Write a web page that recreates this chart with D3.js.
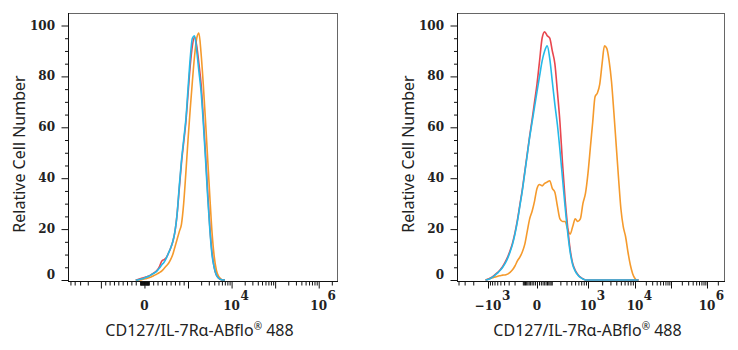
<!DOCTYPE html>
<html><head><meta charset="utf-8">
<script src="https://cdn.jsdelivr.net/npm/d3@7"></script>
<style>body{margin:0;background:#fff} svg{display:block}</style>
</head><body><svg id="c" width="738" height="350"></svg>
<script>
// ---- data (x in logicle display units: 1 unit per decade above 10^3) ----
const leftBins = [-0.20,-0.15,-0.10,-0.05,0.00,0.05,0.10,0.15,0.20,0.25,0.30,0.35,0.40,0.45,0.50,0.55,0.60,0.65,0.70,0.75,0.80,0.85,0.90,0.95,1.00,1.05,1.10,1.15,1.20,1.25,1.30,1.35,1.40,1.45,1.50,1.55,1.60,1.65,1.70,1.75,1.80,1.85];
const leftOrange = [0,0,0,0.2,0.4,0.6,0.9,1.2,1.6,2,2.5,3,3.6,4.5,5.5,6.5,8,10,13,16,19,22,30,42,55,67,78,88,95,97,89,77,63,48,33,19,9.5,4,1.5,0.5,0,0];
const leftRed    = [0,0.2,0.5,0.8,1,1.3,1.6,2,2.6,3.2,4,5.5,7.5,8,8.8,10.5,12.5,15,19,26,36,46,54,62,73,84,92,95.5,92,85,77,64,50,35,21,11,5,2,0.8,0.2,0,0];
const leftBlue   = [0,0,0.3,0.5,0.8,1.2,1.5,2,2.5,3,3.8,4.8,6,7,8.5,10.5,12.5,15,19,26,37,47,55,63,75,87,95,96,90,82,74,62,48,33,20,10,5,2,0.8,0.2,0,0];

const rightBins = [-1.05,-1.00,-0.95,-0.90,-0.85,-0.80,-0.75,-0.70,-0.65,-0.60,-0.55,-0.50,-0.45,-0.40,-0.35,-0.30,-0.25,-0.20,-0.15,-0.10,-0.05,0.00,0.05,0.10,0.15,0.20,0.25,0.30,0.35,0.40,0.45,0.50,0.55,0.60,0.65,0.70,0.75,0.80,0.85,0.90,0.95,1.00,1.05,1.10,1.15,1.20,1.25,1.30,1.35,1.40,1.45,1.50,1.55,1.60,1.65,1.70,1.75,1.80,1.85,1.90,1.95,2.00,2.05,2.10];
const rightOrange = [0,0.3,0.6,0.9,1.2,1.5,1.7,1.9,2,2.3,3,4,5.5,7.5,9,11,14,19,24,27,31,36,37.5,37,38,38.5,39,36,34.5,29,24,23,23,20,18,21,24,23,24,30,34,42,52,62,72,73.5,77,85,92,91,86,78,66,53,40,28,21,17,11,6,2.5,0.6,0,0];
const rightRed    = [0,0.3,0.8,1.4,2.2,3,4,5.3,7,9,11.5,14.5,18.5,23.5,29.5,35.5,42.5,49.5,56.5,63,70,77,86,95,97.5,96,95,90,85,74,62,46,32,21,12,6.5,3.8,2.2,1.1,0.5,0,0,0,0,0,0,0,0,0,0,0,0,0,0,0,0,0,0,0,0,0,0,0,0];
const rightBlue   = [0,0.2,0.6,1.2,2,2.8,3.8,5,6.5,8.5,11,14,18,23,29,35,42,49,56,62,68,74,80,86,90,92,87,78,69,61,51,40,29,19,11,6,3.5,2,1,0.4,0,0,0,0,0,0,0,0,0,0,0,0,0,0,0,0,0,0,0,0,0,0,0,0];

const yTickValues = [0,20,40,60,80,100];
const leftTickLabels = [0, 1e4, 1e6];
const rightTickLabels = [-1e3, 0, 1e3, 1e4, 1e6];
const xTitle = "CD127/IL-7R\u03b1-ABflo";
const xTitleSup = "\u00ae";
const xTitleTail = " 488";
const yTitle = "Relative Cell Number";
const seriesColors = ["#f59a2c", "#e8464e", "#25b9e8"]; // orange, red, blue

// logicle-like display transform (1 unit per decade above 10^3)
function makeT(c) {
  return v => {
    const a = Math.abs(v), s = Math.sign(v);
    if (a <= 1000) return c ? s * Math.log1p(a / c) / Math.log1p(1000 / c) : v / 1000;
    return s * (1 + Math.log10(a / 1000));
  };
}

const svg = d3.select("#c");
const plotTop = 13, plotBottom = 281;

const panels = [
  { x0: 68, x1: 337, xDom: [-1.755, 4.42], xRng: [68, 337], T: makeT(0),
    bins: leftBins, series: [leftOrange, leftRed, leftBlue], labels: leftTickLabels },
  { x0: 457, x1: 724, xDom: [-1.633, -1, 0, 1, 2, 4, 4.472], xRng: [457, 488, 537, 588, 635, 707, 724], T: makeT(100),
    bins: rightBins, series: [rightOrange, rightRed, rightBlue], labels: rightTickLabels }
];

const serif = "'DejaVu Serif', serif";
const sans = "'Noto Sans', 'Open Sans', sans-serif";

panels.forEach(p => {
  const g = svg.append("g");
  const x = d3.scaleLinear().domain(p.xDom).range(p.xRng);
  const y = d3.scaleLinear().domain([0, 100]).range([plotBottom - 1, 25.5]);
  const uMin = p.xDom[0], uMax = p.xDom[p.xDom.length - 1];

  // frame
  g.append("rect").attr("x", p.x0 + 0.5).attr("y", plotTop + 0.5)
    .attr("width", p.x1 - p.x0).attr("height", plotBottom - plotTop)
    .attr("fill", "none").attr("stroke", "#666").attr("stroke-width", 1);

  // curves
  const line = d3.line().x((d, i) => x(p.bins[i])).y(d => y(d)).curve(d3.curveMonotoneX);
  p.series.forEach((s, k) => {
    g.append("path").datum(s).attr("d", line)
      .attr("fill", "none").attr("stroke", seriesColors[k]).attr("stroke-width", 1.6)
      .attr("stroke-linejoin", "round");
  });

  // y axis
  const yMinor = d3.range(5, 100, 5).filter(v => v % 20 !== 0);
  const yAx = g.append("g").attr("transform", `translate(${p.x0 + 0.5},0)`);
  yAx.call(d3.axisLeft(y).tickValues(yTickValues).tickSize(7).tickFormat(""));
  const yAx2 = g.append("g").attr("transform", `translate(${p.x0 + 0.5},0)`);
  yAx2.call(d3.axisLeft(y).tickValues(yMinor).tickSize(3.5).tickFormat(""));
  [yAx, yAx2].forEach(a => { a.select(".domain").remove(); a.selectAll("line").attr("stroke", "#111"); });
  g.append("line").attr("x1", p.x0 + 0.5).attr("x2", p.x0 + 0.5).attr("y1", plotTop).attr("y2", plotBottom + 1)
    .attr("stroke", "#111");
  yTickValues.forEach(v => {
    g.append("text").attr("x", p.x0 - 13).attr("y", y(v) + (v === 0 ? -1 : 4))
      .attr("text-anchor", "end").attr("font-family", serif).attr("font-weight", "bold")
      .attr("font-size", 12).attr("fill", "#222").text(v);
  });

  // x axis ticks
  const major = [], minor = [];
  [-1, 1].forEach(sg => {
    for (let n = 1; n <= 6; n++) {
      for (let k = 1; k <= 9; k++) {
        const v = sg * k * Math.pow(10, n);
        const u = p.T(v);
        if (u < uMin || u > uMax) continue;
        if (k === 1 && n >= 3) major.push(u); else minor.push(u);
      }
    }
  });
  major.push(0);
  const xa1 = g.append("g").attr("transform", `translate(0,${plotBottom + 0.5})`)
    .call(d3.axisBottom(x).tickValues(major).tickSize(7).tickFormat(""));
  const xa2 = g.append("g").attr("transform", `translate(0,${plotBottom + 0.5})`)
    .call(d3.axisBottom(x).tickValues(minor).tickSize(4).tickFormat(""));
  [xa1, xa2].forEach(a => { a.select(".domain").remove(); a.selectAll("line").attr("stroke", "#111"); });
  g.append("line").attr("x1", p.x0).attr("x2", p.x1 + 1).attr("y1", plotBottom + 0.5).attr("y2", plotBottom + 0.5)
    .attr("stroke", "#111");

  // x tick labels
  p.labels.forEach(v => {
    const cx = x(p.T(v));
    if (v === 0) {
      g.append("text").attr("x", cx).attr("y", 310).attr("text-anchor", "middle")
        .attr("font-family", serif).attr("font-weight", "bold").attr("font-size", 12).attr("fill", "#222").text("0");
      return;
    }
    const e = Math.round(Math.log10(Math.abs(v)));
    const base = (v < 0 ? "\u221210" : "10");
    const tb = g.append("text").attr("x", cx).attr("y", 310).attr("text-anchor", "middle")
      .attr("font-family", serif).attr("font-weight", "bold").attr("font-size", 12).attr("fill", "#222").text(base);
    const w = tb.node().getComputedTextLength();
    g.append("text").attr("x", cx + w / 2 + 0.5).attr("y", 300)
      .attr("font-family", serif).attr("font-weight", "bold").attr("font-size", 12).attr("fill", "#222").text(e);
  });

  // titles
  const xt = g.append("text").attr("x", (p.x0 + p.x1) / 2 - 3).attr("y", 336).attr("text-anchor", "middle")
    .attr("font-family", sans).attr("font-size", 16).attr("fill", "#222");
  xt.append("tspan").text(xTitle);
  xt.append("tspan").attr("font-size", 10).attr("dy", -6).text(xTitleSup);
  xt.append("tspan").attr("dy", 6).text(xTitleTail);

  g.append("text").attr("transform", `translate(${p.x0 - 43},154) rotate(-90)`)
    .attr("text-anchor", "middle").attr("font-family", sans).attr("font-size", 16).attr("fill", "#222")
    .text(yTitle);
});
</script></body></html>
